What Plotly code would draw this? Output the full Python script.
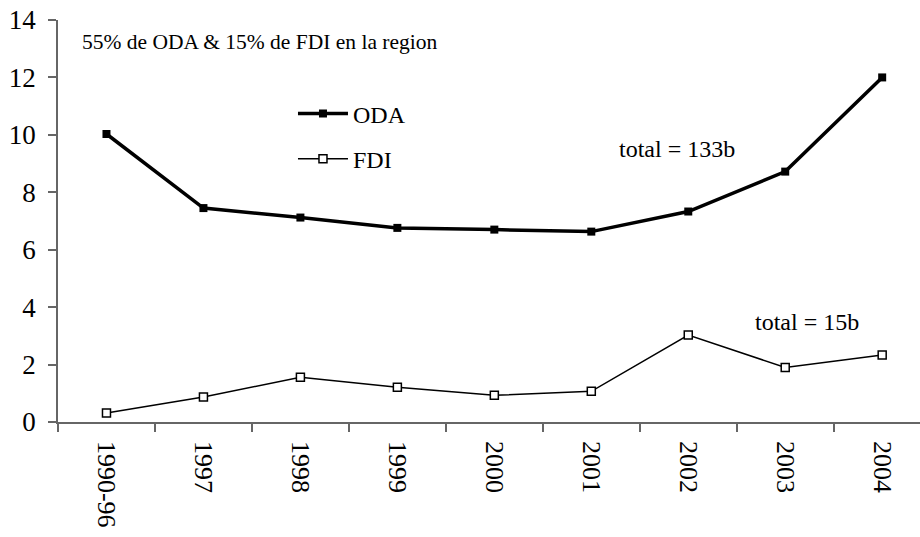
import plotly.graph_objects as go

categories = ["1990-96", "1997", "1998", "1999", "2000", "2001", "2002", "2003", "2004"]
oda = [10.03, 7.45, 7.12, 6.76, 6.70, 6.63, 7.33, 8.72, 12.0]
fdi = [0.31, 0.87, 1.56, 1.21, 0.93, 1.07, 3.03, 1.90, 2.33]
y_ticks = [0, 2, 4, 6, 8, 10, 12, 14]

FONT = "Liberation Serif, Times New Roman, serif"

fig = go.Figure()
fig.add_trace(go.Scatter(
    x=categories, y=oda, name="ODA", mode="lines+markers",
    line=dict(color="black", width=3.5),
    marker=dict(symbol="square", size=8, color="black"),
    legendgroup="a",
))
fig.add_trace(go.Scatter(
    x=categories, y=fdi, name="FDI", mode="lines+markers",
    line=dict(color="black", width=1.5),
    marker=dict(symbol="square", size=8, color="white",
                line=dict(color="black", width=1.5)),
    legendgroup="b",
))

fig.update_layout(
    width=920, height=537,
    margin=dict(l=58, r=0, t=20, b=115),
    paper_bgcolor="white", plot_bgcolor="white",
    font=dict(family=FONT, size=24, color="black"),
    showlegend=True,
    legend=dict(x=0.2726, y=0.8224, xanchor="left", yanchor="top",
                bgcolor="rgba(0,0,0,0)", font=dict(size=24, family=FONT),
                tracegroupgap=11, itemwidth=50),
    xaxis=dict(
        type="category", categoryorder="array", categoryarray=categories,
        range=[-0.5, 8.39], tickson="boundaries",
        ticks="outside", ticklen=8, tickcolor="#666", tickwidth=1.5,
        showline=True, linecolor="#666", linewidth=1.5,
        tickangle=90, showgrid=False, zeroline=False,
        tickfont=dict(size=26, family=FONT),
        ticklabelstandoff=12, automargin=False,
    ),
    yaxis=dict(
        range=[0, 14], tickvals=y_ticks, ticktext=[str(v) for v in y_ticks],
        ticks="outside", ticklen=8, tickcolor="#666", tickwidth=1.5,
        showline=True, linecolor="#666", linewidth=1.5,
        showgrid=False, zeroline=False,
        tickfont=dict(size=27, family=FONT),
        ticklabelstandoff=7, automargin=False,
    ),
    annotations=[
        dict(text="55% de ODA & 15% de FDI en la region", xref="paper", yref="paper",
             x=0.026, y=0.945, xanchor="left", yanchor="middle", showarrow=False,
             font=dict(size=21.5, family=FONT)),
        dict(text="total = 133b", xref="paper", yref="paper",
             x=0.6485, y=0.68, xanchor="left", yanchor="middle", showarrow=False,
             font=dict(size=24, family=FONT)),
        dict(text="total = 15b", xref="paper", yref="paper",
             x=0.806, y=0.249, xanchor="left", yanchor="middle", showarrow=False,
             font=dict(size=24, family=FONT)),
    ],
)

fig.write_html(
    "out.html",
    config={"displayModeBar": False},
    post_script="document.body.style.margin='0';document.body.style.overflow='hidden';",
)
